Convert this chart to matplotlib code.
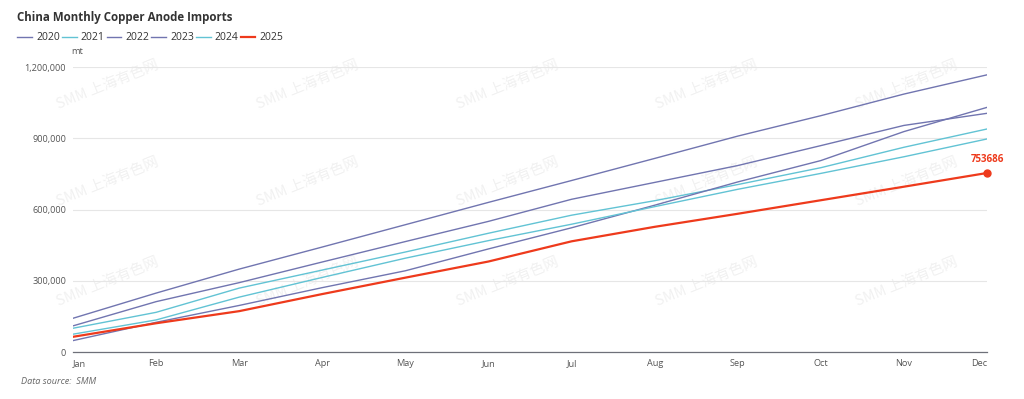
import matplotlib
matplotlib.use("Agg")
from matplotlib import pyplot as plt
from matplotlib.ticker import FuncFormatter

plt.rcParams['font.family'] = ['Open Sans', 'Noto Sans CJK SC', 'DejaVu Sans']

months = ['Jan', 'Feb', 'Mar', 'Apr', 'May', 'Jun', 'Jul', 'Aug', 'Sep', 'Oct', 'Nov', 'Dec']
years = ['2020', '2021', '2022', '2023', '2024', '2025']

# cumulative imports, mt
y2020 = [142000, 248000, 349000, 442000, 536000, 630000, 722000, 815000, 909000, 995000, 1086000, 1167000]
y2021 = [100000, 167000, 269000, 345000, 421000, 500000, 576000, 637000, 705000, 776000, 862000, 939000]
y2022 = [110000, 212000, 292000, 379000, 465000, 550000, 643000, 714000, 785000, 869000, 954000, 1005000]
y2023 = [48000, 125000, 196000, 271000, 342000, 434000, 523000, 618000, 716000, 806000, 928000, 1030000]
y2024 = [75000, 135000, 231000, 314000, 395000, 469000, 538000, 612000, 685000, 752000, 822000, 897000]
y2025 = [64000, 121000, 172000, 244000, 313000, 381000, 466000, 527000, 582000, 639000, 696000, 753686]

series = [y2020, y2021, y2022, y2023, y2024, y2025]
colors = ['#7175b0', '#62c3d4', '#7175b0', '#7175b0', '#62c3d4', '#ee3a1c']
widths = [1.0, 1.0, 1.0, 1.0, 1.0, 1.6]

fig = plt.figure(figsize=(10.24, 3.99), dpi=100)
ax = fig.add_axes([73 / 1024, 1 - 352 / 399, 914 / 1024, 285 / 399])
ax.set_zorder(2)

# watermark, behind the plot
for wx in [108, 308, 508, 707, 907]:
    for wy in [85, 182, 282]:
        fig.text(wx / 1024, 1 - wy / 399, 'SMM 上海有色网', rotation=22, ha='center', va='center',
                 fontsize=10.5, color='#f1f1f1', family=['Noto Sans CJK SC', 'DejaVu Sans'], zorder=0)

x = list(range(len(months)))
handles = []
for name, vals, c, w in zip(years, series, colors, widths):
    ln, = ax.plot(x, vals, color=c, lw=w, label=name, zorder=3 if name == '2025' else 2)
    handles.append(ln)

# end point of 2025
ax.plot(x[-1], y2025[-1], 'o', color='#ee3a1c', ms=5, zorder=4, clip_on=False)
ax.annotate(str(y2025[-1]), (x[-1], y2025[-1]), xytext=(0, 6), textcoords='offset points',
            ha='center', va='bottom', color='#ee3a1c', fontsize=7, fontweight='bold')

ax.set_xlim(0, 11)
ax.set_ylim(0, 1200000)
ax.set_yticks([0, 300000, 600000, 900000, 1200000])
ax.yaxis.set_major_formatter(FuncFormatter(lambda v, p: f'{int(v):,}'))
ax.set_xticks(x)
ax.set_xticklabels(months)
labs = ax.get_xticklabels()
labs[0].set_ha('left')
labs[-1].set_ha('right')
ax.tick_params(axis='both', length=0, labelsize=6.6, colors='#555555')
ax.tick_params(axis='x', pad=5)
ax.tick_params(axis='y', pad=5)
ax.grid(axis='y', color='#e6e6e6', lw=0.8)
ax.set_axisbelow(True)
for s in ['top', 'right', 'left']:
    ax.spines[s].set_visible(False)
ax.spines['bottom'].set_color('#6e7079')
ax.spines['bottom'].set_linewidth(0.9)
ax.patch.set_alpha(0)

fig.text(17 / 1024, 1 - 18 / 399, 'China Monthly Copper Anode Imports', fontsize=8.3,
         fontweight='bold', color='#333333', va='center', ha='left')
fig.legend(handles=handles, labels=years, loc='center left', bbox_to_anchor=(8 / 1024, 1 - 38 / 399),
           ncol=6, frameon=False, fontsize=7.5, handlelength=1.4, handletextpad=0.4,
           columnspacing=0.2, labelcolor='#333333')
fig.text(71 / 1024, 1 - 52 / 399, 'mt', fontsize=6.6, color='#555555', va='center', ha='left')
fig.text(21 / 1024, 1 - 382 / 399, 'Data source:  SMM', fontsize=6.6, style='italic',
         color='#666666', va='center', ha='left')

fig.savefig('out.png', dpi=100)
